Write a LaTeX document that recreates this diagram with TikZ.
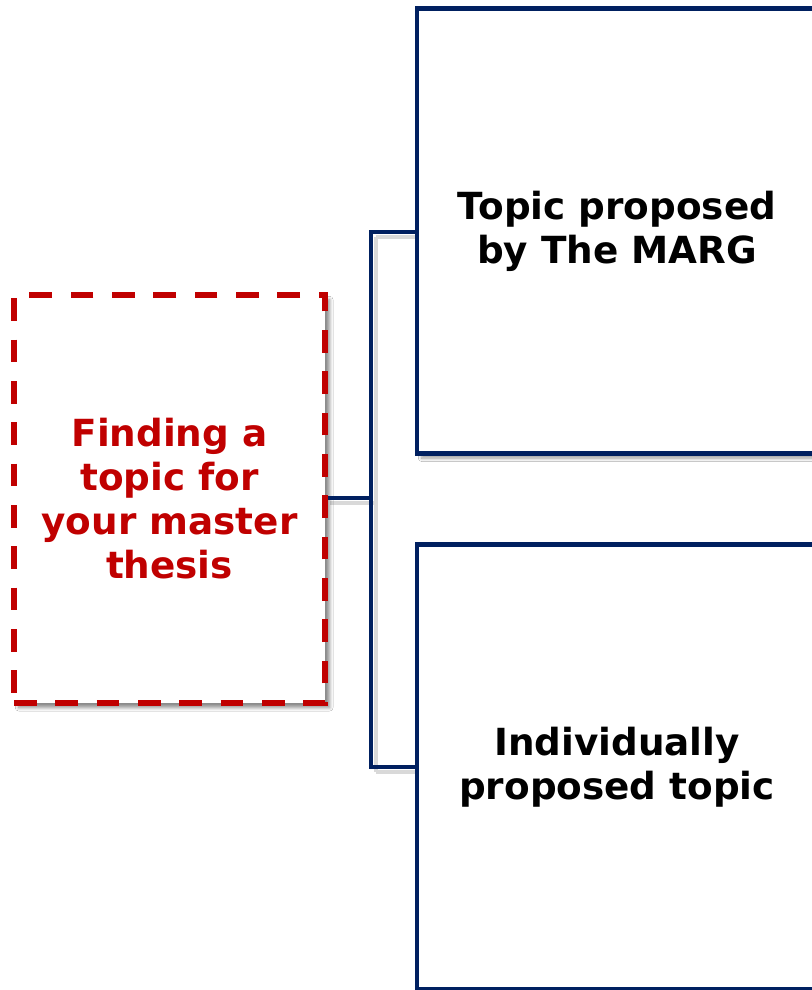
\documentclass[tikz,border=0pt]{standalone}
\usepackage{fontspec}
\setmainfont{DejaVu Sans}
\usetikzlibrary{shadows.blur}
\definecolor{navy}{HTML}{002060}
\definecolor{darkred}{HTML}{C00000}
\tikzset{
  boxtext/.style={font=\bfseries\fontsize{28}{33}\selectfont, align=center},
  rootbox/.style={boxtext, text=darkred, draw=darkred, fill=white, line width=4.2pt,
     dash pattern=on 17pt off 14pt, rectangle, minimum width=311*0.75pt, minimum height=408*0.75pt,
     inner sep=0pt, blur shadow={shadow xshift=3.5pt, shadow yshift=-3.5pt, shadow blur steps=8, shadow blur radius=2.5pt, shadow opacity=45}},
  leafbox/.style={boxtext, text=black, draw=navy, fill=white, line width=3.6pt, rectangle,
     minimum width=400*0.75pt, minimum height=445*0.75pt, inner sep=0pt,
     blur shadow={shadow xshift=3.5pt, shadow yshift=-3.5pt, shadow blur steps=8, shadow blur radius=2.5pt, shadow opacity=40}},
  conn/.style={draw=navy, line width=3pt},
  connshadow/.style={draw=black!15, line width=3pt}
}
\begin{document}
\begin{tikzpicture}[x=0.75pt,y=-0.75pt]
\clip (0,0) rectangle (812,990);
\fill[white] (0,0) rectangle (812,990);
% shadow of connectors
\draw[connshadow] (330,503) -- (376,503) (376,237) -- (376,772) (376,237) -- (417,237) (376,772) -- (417,772);
\node[rootbox] (root) at (169.5,499) {Finding a\\topic for\\your master\\thesis};
\node[leafbox] (t1) at (617,231) {Topic proposed\\by The MARG};
\node[leafbox] (t2) at (617,767) {Individually\\proposed topic};
\coordinate (j) at (371,498);
\coordinate (jt) at (371,232);
\coordinate (jb) at (371,767);
\draw[conn] (root.east |- j) -- (j);
\draw[conn, line cap=rect] (jt) -- (jb);
\draw[conn] (jt) -- (t1.west |- jt);
\draw[conn] (jb) -- (t2.west |- jb);
\end{tikzpicture}
\end{document}
